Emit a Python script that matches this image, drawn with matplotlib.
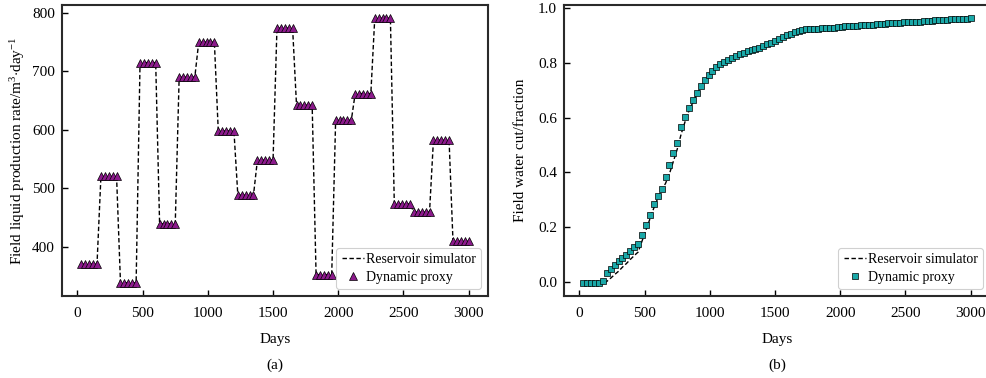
import matplotlib
matplotlib.use("Agg")
import matplotlib.pyplot as plt
import numpy as np

plt.rcParams['font.family'] = ['Liberation Serif', 'DejaVu Serif']
plt.rcParams['mathtext.fontset'] = 'custom'
plt.rcParams['mathtext.rm'] = 'Liberation Serif'
plt.rcParams['mathtext.it'] = 'Liberation Serif:italic'
plt.rcParams['font.size'] = 11

# ---- data ----
days = list(range(30, 3001, 30))  # 100 report steps

# liquid production rate, 20 control periods x 5 report steps
rate_levels = [370, 520, 338, 715, 439, 690, 750, 598, 488, 548,
               774, 642, 352, 616, 662, 791, 473, 459, 582, 409]
rate_sim = [v for v in rate_levels for _ in range(5)]
rate_proxy = [v for v in rate_levels for _ in range(5)]

wct_proxy = [-0.002, -0.002, -0.002, -0.002, -0.002, 0.005, 0.032, 0.047, 0.061, 0.078,
             0.090, 0.101, 0.114, 0.129, 0.141, 0.173, 0.208, 0.246, 0.285, 0.316,
             0.341, 0.383, 0.428, 0.470, 0.508, 0.564, 0.602, 0.634, 0.663, 0.690,
             0.715, 0.736, 0.754, 0.770, 0.785, 0.796, 0.803, 0.810, 0.818, 0.825,
             0.831, 0.836, 0.841, 0.845, 0.850, 0.855, 0.861, 0.867, 0.872, 0.878,
             0.886, 0.893, 0.901, 0.906, 0.911, 0.915, 0.918, 0.921, 0.922, 0.923,
             0.924, 0.925, 0.926, 0.927, 0.928, 0.929, 0.930, 0.932, 0.933, 0.934,
             0.935, 0.936, 0.937, 0.938, 0.939, 0.940, 0.941, 0.942, 0.943, 0.944,
             0.945, 0.946, 0.947, 0.947, 0.948, 0.949, 0.950, 0.951, 0.952, 0.953,
             0.954, 0.955, 0.956, 0.957, 0.958, 0.959, 0.960, 0.960, 0.961, 0.962]

wct_sim = [-0.002, -0.002, -0.002, -0.002, -0.002, -0.002, 0.003, 0.015, 0.028, 0.040,
           0.055, 0.068, 0.083, 0.097, 0.110, 0.150, 0.190, 0.230, 0.270, 0.305,
           0.335, 0.360, 0.395, 0.440, 0.485, 0.540, 0.585, 0.625, 0.655, 0.685,
           0.710, 0.732, 0.752, 0.770, 0.785, 0.796, 0.803, 0.810, 0.818, 0.825,
           0.831, 0.836, 0.841, 0.845, 0.850, 0.855, 0.861, 0.867, 0.872, 0.878,
           0.886, 0.893, 0.901, 0.906, 0.911, 0.915, 0.918, 0.921, 0.922, 0.923,
           0.924, 0.925, 0.926, 0.927, 0.928, 0.929, 0.930, 0.932, 0.933, 0.934,
           0.935, 0.936, 0.937, 0.938, 0.939, 0.940, 0.941, 0.942, 0.943, 0.944,
           0.945, 0.946, 0.947, 0.947, 0.948, 0.949, 0.950, 0.951, 0.952, 0.953,
           0.954, 0.955, 0.956, 0.957, 0.958, 0.959, 0.960, 0.960, 0.961, 0.962]

# ---- figure ----
W, H = 986, 378
fig = plt.figure(figsize=(W / 100, H / 100), dpi=100)
ax1 = fig.add_axes([62 / W, (H - 296) / H, 426 / W, 291 / H])
ax2 = fig.add_axes([564 / W, (H - 296) / H, 426 / W, 291 / H])

line_kw = dict(color='black', linestyle=(0, (3.2, 1.8)), linewidth=1.0)

ax1.plot(days, rate_sim, label='Reservoir simulator', zorder=2, **line_kw)
ax1.plot(days, rate_proxy, linestyle='none', marker='^', markersize=5.2,
         markerfacecolor='#8c1a8c', markeredgecolor='black', markeredgewidth=0.5,
         label='Dynamic proxy', zorder=3)

ax2.plot(days, wct_sim, label='Reservoir simulator', zorder=2, **line_kw)
ax2.plot(days, wct_proxy, linestyle='none', marker='s', markersize=4.0,
         markerfacecolor='#1aa8a8', markeredgecolor='black', markeredgewidth=0.5,
         label='Dynamic proxy', zorder=3)

for ax in (ax1, ax2):
    ax.set_xticks([0, 500, 1000, 1500, 2000, 2500, 3000])
    ax.tick_params(direction='in', length=4, width=1, top=False, right=False,
                   labelsize=11, colors='black')
    ax.tick_params(axis='x', pad=8)
    ax.tick_params(axis='y', pad=5)
    for s in ax.spines.values():
        s.set_linewidth(1.5)
        s.set_color('#2a2a2a')
    ax.set_xlabel('Days', fontsize=11, labelpad=9)
    leg = ax.legend(loc='lower right', fontsize=10, handlelength=1.6,
                    handletextpad=0.1, numpoints=1, borderpad=0.4,
                    labelspacing=0.3, borderaxespad=0.5, fancybox=True,
                    framealpha=1)
    leg.get_frame().set_edgecolor('#d0d0d0')
    leg.get_frame().set_linewidth(0.8)

ax1.set_yticks([400, 500, 600, 700, 800])
ax2.set_yticks([0.0, 0.2, 0.4, 0.6, 0.8, 1.0])
ax2.set_yticklabels(['0.0', '0.2', '0.4', '0.6', '0.8', '1.0'])

ax1.set_ylabel(r'Field liquid production rate/m$^{3}$$\cdot$day$^{-1}$', fontsize=11, labelpad=4)
ax2.set_ylabel('Field water cut/fraction', fontsize=11, labelpad=8)

fig.text(275 / W, 1 - 365 / H, '(a)', ha='center', va='center', fontsize=11)
fig.text(777 / W, 1 - 365 / H, '(b)', ha='center', va='center', fontsize=11)

fig.savefig('out.png', dpi=100)
